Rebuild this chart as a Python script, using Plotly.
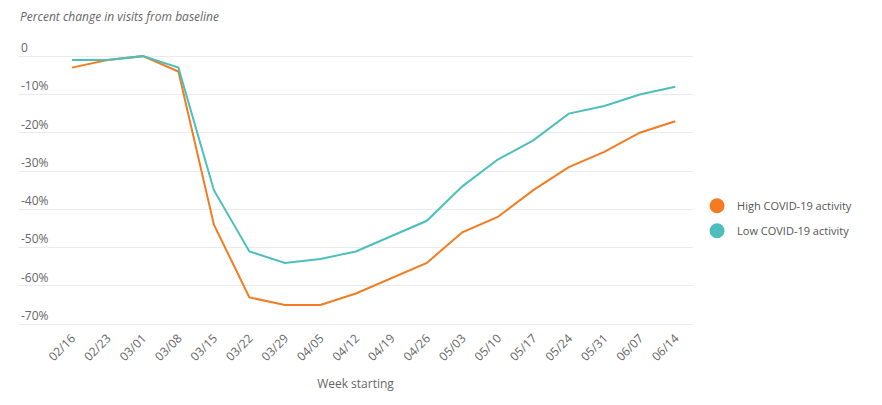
import plotly.graph_objects as go

weeks = ["02/16", "02/23", "03/01", "03/08", "03/15", "03/22", "03/29", "04/05", "04/12",
         "04/19", "04/26", "05/03", "05/10", "05/17", "05/24", "05/31", "06/07", "06/14"]
high_activity = [-3, -1, 0, -4, -44, -63, -65, -65, -62, -58, -54, -46, -42, -35, -29, -25, -20, -17]
low_activity = [-1, -1, 0, -3, -35, -51, -54, -53, -51, -47, -43, -34, -27, -22, -15, -13, -10, -8]

y_ticks = [0, -10, -20, -30, -40, -50, -60, -70]
y_tick_labels = ["0", "-10%", "-20%", "-30%", "-40%", "-50%", "-60%", "-70%"]

ORANGE = "#F47B20"
TEAL = "#4CBFBC"
GREY = "#666666"

fig = go.Figure()
fig.add_trace(go.Scatter(x=weeks, y=high_activity, mode="lines", line=dict(color=ORANGE, width=2),
                         name="High COVID-19 activity", showlegend=False))
fig.add_trace(go.Scatter(x=weeks, y=low_activity, mode="lines", line=dict(color=TEAL, width=2),
                         name="Low COVID-19 activity", showlegend=False))

# legend uses round swatches
for name, color in [("High COVID-19 activity", ORANGE), ("Low COVID-19 activity", TEAL)]:
    fig.add_trace(go.Scatter(x=[None], y=[None], mode="markers", name=name, legendgroup=name,
                             marker=dict(color=color, size=15, symbol="circle")))

# page body has an 8px margin, so the figure is a bit smaller than the window
fig.update_layout(
    width=874, height=397,
    margin=dict(l=10, r=189, t=29, b=77),
    plot_bgcolor="white", paper_bgcolor="white",
    font=dict(family="Open Sans", color=GREY, size=12),
    legend=dict(x=1.006, y=0.377, yanchor="middle", xanchor="left",
                font=dict(size=11, color="#555555"), tracegroupgap=6,
                itemsizing="trace"),
    xaxis=dict(
        range=[-1.52, 17.5], tickangle=-45, showgrid=False, showline=False,
        ticks="", tickfont=dict(size=12, color=GREY), automargin=False,
        title=dict(text="Week starting", font=dict(size=12, color=GREY), standoff=16),
    ),
    yaxis=dict(
        range=[-71, 5], tickvals=y_ticks, ticktext=y_tick_labels,
        ticklabelposition="inside top", showgrid=True, gridcolor="#EBEBEB",
        gridwidth=1, zeroline=False, showline=False, ticks="",
        tickfont=dict(size=12, color=GREY), automargin=False,
    ),
    annotations=[dict(
        text="<i>Percent change in visits from baseline</i>", xref="paper", yref="paper",
        x=0, y=1.072, xanchor="left", yanchor="middle", showarrow=False,
        font=dict(size=12, color=GREY),
    )],
)

fig.write_html("out.html")
